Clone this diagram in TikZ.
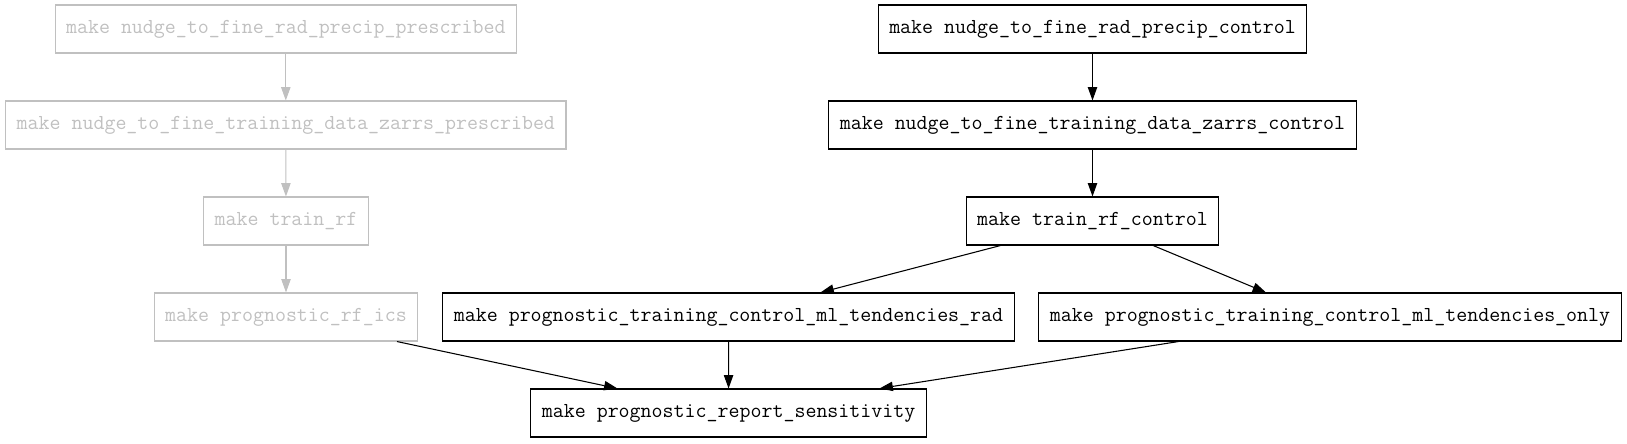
\documentclass[tikz,border=0pt]{standalone}
\usepackage{fontspec}
\usetikzlibrary{arrows.meta,calc}
\definecolor{gvgray}{RGB}{192,192,192}
\tikzset{
  task/.style={draw=black, line width=0.8pt, text=black, font=\ttfamily\fontsize{16pt}{18pt}\selectfont,
    inner xsep=8.25pt, inner ysep=0pt, minimum height=36pt, anchor=center},
  donetask/.style={task, draw=gvgray, text=gvgray},
  dep/.style={draw=black, line width=0.8pt, -{Triangle[length=10pt,width=7pt]}},
  donedep/.style={dep, draw=gvgray, -{Triangle[length=10pt,width=7pt,fill=gvgray]}},
}
\begin{document}
\begin{tikzpicture}[x=0.75pt, y=-0.75pt]
\useasboundingbox (0,0) rectangle (1627,443);
% gray column
\node[donetask] (a) at (285.8,29) {make nudge\_to\_fine\_rad\_precip\_prescribed};
\node[donetask] (b) at (285.8,125) {make nudge\_to\_fine\_training\_data\_zarrs\_prescribed};
\node[donetask] (c) at (286,221) {make train\_rf};
\node[donetask] (d) at (286,317) {make prognostic\_rf\_ics};
% black column
\node[task] (e) at (1092.5,29) {make nudge\_to\_fine\_rad\_precip\_control};
\node[task] (f) at (1092.5,125) {make nudge\_to\_fine\_training\_data\_zarrs\_control};
\node[task] (g) at (1092.5,221) {make train\_rf\_control};
\node[task] (h) at (728.5,317) {make prognostic\_training\_control\_ml\_tendencies\_rad};
\node[task] (i) at (1330,317) {make prognostic\_training\_control\_ml\_tendencies\_only};
\node[task] (j) at (728.6,413) {make prognostic\_report\_sensitivity};
% connectors
\draw[donedep] (a) -- (b);
\draw[donedep] (b) -- (c);
\draw[donedep] (c) -- (d);
\draw[dep] (e) -- (f);
\draw[dep] (f) -- (g);
\draw[dep] ([xshift=-69pt]g.south) -- ([xshift=69pt]h.north);
\draw[dep] ([xshift=45.5pt]g.south) -- ([xshift=-48pt]i.north);
\draw[dep] (h) -- (j);
\draw[dep] ([xshift=83.25pt]d.south) -- ([xshift=-83.4pt]j.north);
\draw[dep] ([xshift=-113.6pt]i.south) -- ([xshift=113.2pt]j.north);
\end{tikzpicture}
\end{document}
